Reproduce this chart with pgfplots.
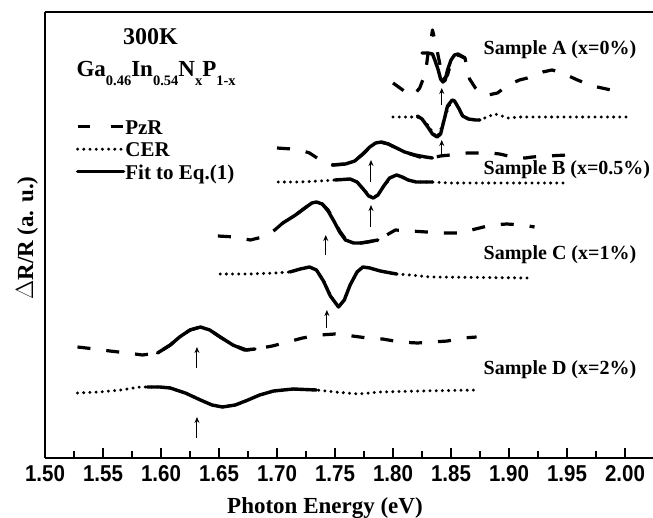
\documentclass[border=0pt]{standalone}
\usepackage{pgfplots}
\pgfplotsset{compat=1.18}
\usepackage{fontspec}
\setmainfont{Liberation Serif}
\newfontfamily\arialfont{Liberation Sans}
\usetikzlibrary{arrows.meta}

\newcommand\sub[1]{\raisebox{-9pt}{\fontsize{14.5}{14.5}\selectfont #1}}

\tikzset{
  pzr/.style={black, line width=3.2pt, line join=round, dash pattern=on 13pt off 16pt},
  cer/.style={black, line width=3.3pt, line cap=round, dash pattern=on 0pt off 6.2pt},
  fit/.style={black, line width=3.4pt, line join=round, line cap=round},
  peak/.style={black, line width=1pt, -{Stealth[length=6pt,width=5pt]}},
}

\begin{document}
\begin{tikzpicture}
\useasboundingbox (-45pt,-59pt) rectangle (608pt,458pt);
\begin{axis}[
  at={(0,0)}, anchor=south west,
  scale only axis, width=608pt, height=446pt,
  xmin=1.5, xmax=2.0241, ymin=0, ymax=446,
  axis x line=box, axis y line=left,
  axis line style={-, line width=2.8pt},
  xtick={1.50,1.55,1.60,1.65,1.70,1.75,1.80,1.85,1.90,1.95,2.00},
  minor x tick num=1,
  xtick pos=left,
  ytick=\empty,
  tick align=inside,
  major tick length=10pt, minor tick length=7pt,
  every tick/.style={black, line width=2pt},
  /pgf/number format/assume math mode=true,
  xticklabel={\scalebox{1}[1.12]{\pgfmathprintnumber[fixed,fixed zerofill,precision=2]{\tick}}},
  xticklabel style={font=\arialfont\bfseries\fontsize{20.5}{20.5}\selectfont, yshift=-4pt},
  every axis x label/.style={at={(axis description cs:0.4605,0)}, anchor=center, yshift=-50pt,
    font=\bfseries\fontsize{23}{23}\selectfont},
  every axis y label/.style={at={(axis description cs:-0.0296,0.493)}, anchor=center, rotate=90,
    font=\bfseries\fontsize{23}{23}\selectfont},
  xlabel={Photon Energy (eV)},
  ylabel={$\Delta$R/R (a. u.)},
  legend image code/.code={\draw[#1] (0pt,2.5pt) -- (46pt,2.5pt);},
  legend style={at={(axis cs:1.5265,339)}, anchor=north west, draw=none, fill=none,
    font=\bfseries\fontsize{21}{21}\selectfont, row sep=2.5pt,
    inner sep=0pt, nodes={inner sep=0pt, text height=15pt, text depth=5pt}},
  legend cell align=left,
  clip=false,
]

% legend samples
\addlegendimage{black, line width=3.2pt, dash pattern=on 12pt off 21pt}
\addlegendentry{PzR}
\addlegendimage{cer}
\addlegendentry{CER}
\addlegendimage{fit}
\addlegendentry{Fit to Eq.(1)}

% ---------------- Sample A (x = 0%) ----------------
\addplot[pzr, forget plot] coordinates {
 (1.800,375)(1.806,370)(1.813,364)(1.818,363)(1.823,370)(1.828,385)(1.830,403)
 (1.833,420)(1.834,428)(1.837,413)(1.840,396)(1.843,378)(1.847,383)(1.851,400)
 (1.856,403)(1.862,400)(1.866,379)(1.871,370)(1.875,365)(1.882,363)(1.890,365)
 (1.897,371)(1.903,375)(1.909,378)(1.916,380)(1.929,386)(1.937,388)(1.944,386)
 (1.959,378)(1.972,372)(1.984,369)(2.000,365)};
\addplot[fit, forget plot] coordinates {
 (1.825,405)(1.830,405)(1.834,404)(1.836,398)(1.839,388)(1.841,379)(1.843,376)
 (1.845,378)(1.847,388)(1.850,398)(1.853,403)(1.856,404)(1.859,402)(1.862,400)};
\addplot[cer, forget plot] coordinates {
 (1.800,341)(1.810,341)(1.821,341)(1.828,336)(1.834,326)(1.838,321)(1.841,328)
 (1.846,345)(1.850,357)(1.853,358)(1.856,352)(1.860,342)(1.866,339)(1.875,338)
 (1.881,341)(1.888,344)(1.894,342)(1.899,340)(1.909,341)(2.003,341)};
\addplot[fit, forget plot] coordinates {
 (1.821,342)(1.825,339)(1.830,331)(1.834,324)(1.838,321)(1.841,324)(1.844,338)
 (1.847,352)(1.851,358)(1.853,357)(1.857,349)(1.860,342)(1.865,339)(1.871,338)(1.875,338)};

% ---------------- Sample B (x = 0.5%) ----------------
\addplot[pzr, forget plot] coordinates {
 (1.700,310)(1.713,309)(1.720,308)(1.728,305)(1.741,295)(1.748,293)(1.759,294)
 (1.767,297)(1.776,306)(1.782,313)(1.789,316)(1.796,314)(1.804,309)(1.815,304)
 (1.823,301)(1.832,300)(1.841,302)(1.849,303)(1.864,305)(1.875,305)(1.884,305)
 (1.892,304)(1.903,301)(1.914,300)(1.920,301)(1.933,302)(1.950,303)};
\addplot[fit, forget plot] coordinates {
 (1.748,293)(1.759,294)(1.767,297)(1.774,304)(1.780,311)(1.785,315)(1.790,316)
 (1.796,314)(1.803,310)(1.810,306)(1.819,303)(1.828,301)(1.834,300)};
\addplot[cer, forget plot] coordinates {
 (1.701,276)(1.720,276)(1.737,277)(1.750,278)(1.763,279)(1.770,275)(1.776,267)
 (1.782,260)(1.787,263)(1.793,273)(1.799,281)(1.804,283)(1.809,280)(1.815,277)
 (1.823,276)(1.834,276)(1.849,275)(1.892,275)(1.951,275)};
\addplot[fit, forget plot] coordinates {
 (1.750,278)(1.763,279)(1.769,276)(1.775,268)(1.779,262)(1.783,260)(1.787,263)
 (1.792,272)(1.797,280)(1.803,283)(1.808,281)(1.813,278)(1.820,276)(1.834,276)};

% ---------------- Sample C (x = 1%) ----------------
\addplot[pzr, forget plot] coordinates {
 (1.649,222)(1.664,221)(1.677,218)(1.691,222)(1.698,228)(1.705,235)(1.716,243)
 (1.724,250)(1.730,255)(1.734,256)(1.739,254)(1.744,248)(1.749,238)(1.754,227)
 (1.759,219)(1.766,215)(1.772,215)(1.778,216)(1.787,218)(1.802,228)(1.815,227)
 (1.829,226)(1.843,225)(1.858,225)(1.871,229)(1.885,233)(1.898,234)(1.912,233)(1.922,231)};
\addplot[fit, forget plot] coordinates {
 (1.705,235)(1.716,243)(1.724,250)(1.730,255)(1.734,256)(1.739,254)(1.744,247)
 (1.749,237)(1.754,226)(1.759,218)(1.766,215)(1.772,215)(1.778,216)(1.787,218)};
\addplot[cer, forget plot] coordinates {
 (1.651,184)(1.677,184)(1.698,185)(1.711,186)(1.720,189)(1.728,191)(1.734,188)
 (1.740,178)(1.746,163)(1.753,151)(1.758,158)(1.763,173)(1.769,186)(1.774,191)
 (1.780,190)(1.786,188)(1.797,185)(1.803,184)(1.815,183)(1.832,181)(1.920,180)};
\addplot[fit, forget plot] coordinates {
 (1.711,186)(1.720,189)(1.728,191)(1.734,188)(1.740,177)(1.746,162)(1.753,151)
 (1.758,158)(1.763,173)(1.769,186)(1.774,191)(1.780,190)(1.789,187)(1.803,184)};

% ---------------- Sample D (x = 2%) ----------------
\addplot[pzr, forget plot] coordinates {
 (1.528,111)(1.543,109)(1.556,107)(1.571,105)(1.584,103)(1.597,105)(1.608,113)
 (1.616,121)(1.625,128)(1.634,131)(1.642,128)(1.651,121)(1.662,113)(1.674,108)
 (1.681,109)(1.696,112)(1.709,116)(1.722,120)(1.737,123)(1.750,124)(1.765,122)
 (1.778,120)(1.791,119)(1.806,116)(1.821,115)(1.834,116)(1.847,117)(1.860,120)(1.872,121)};
\addplot[fit, forget plot] coordinates {
 (1.597,105)(1.608,113)(1.616,121)(1.625,128)(1.634,131)(1.642,128)(1.651,121)
 (1.662,113)(1.672,108)(1.681,109)};
\addplot[cer, forget plot] coordinates {
 (1.528,65)(1.547,66)(1.565,68)(1.582,71)(1.588,71)(1.599,71)(1.608,70)(1.621,65)
 (1.634,58)(1.644,53)(1.653,51)(1.664,53)(1.675,58)(1.685,63)(1.697,67)(1.714,69)
 (1.734,68)(1.750,66)(1.770,64)(1.789,66)(1.823,67)(1.873,68)};
\addplot[fit, forget plot] coordinates {
 (1.588,71)(1.599,71)(1.608,70)(1.621,65)(1.634,58)(1.644,53)(1.653,51)(1.664,53)
 (1.675,58)(1.685,63)(1.697,67)(1.714,69)(1.734,68)};

% transition energies
\draw[peak] (axis cs:1.842,353) -- (axis cs:1.842,370);
\draw[peak] (axis cs:1.842,303) -- (axis cs:1.842,318);
\draw[peak] (axis cs:1.781,276) -- (axis cs:1.781,298);
\draw[peak] (axis cs:1.781,231) -- (axis cs:1.781,253);
\draw[peak] (axis cs:1.742,203) -- (axis cs:1.742,223);
\draw[peak] (axis cs:1.743,130) -- (axis cs:1.743,148);
\draw[peak] (axis cs:1.631,90) -- (axis cs:1.631,111);
\draw[peak] (axis cs:1.631,20) -- (axis cs:1.631,41);

% annotations
\node[font=\bfseries\fontsize{24}{24}\selectfont] at (axis cs:1.591,421) {300K};
\node[anchor=base west, inner sep=0pt, font=\bfseries\fontsize{23}{23}\selectfont]
  at (axis cs:1.527,381) {Ga\sub{0.46}In\sub{0.54}N\sub{x}P\sub{1-x}};
\begin{scope}[every node/.style={anchor=west, inner sep=0pt, font=\bfseries\fontsize{20}{20}\selectfont}]
\node at (axis cs:1.878,408) {Sample A (x=0\%)};
\node at (axis cs:1.878,288) {Sample B (x=0.5\%)};
\node at (axis cs:1.878,203) {Sample C (x=1\%)};
\node at (axis cs:1.878,88) {Sample D (x=2\%)};
\end{scope}
\end{axis}
\end{tikzpicture}
\end{document}
